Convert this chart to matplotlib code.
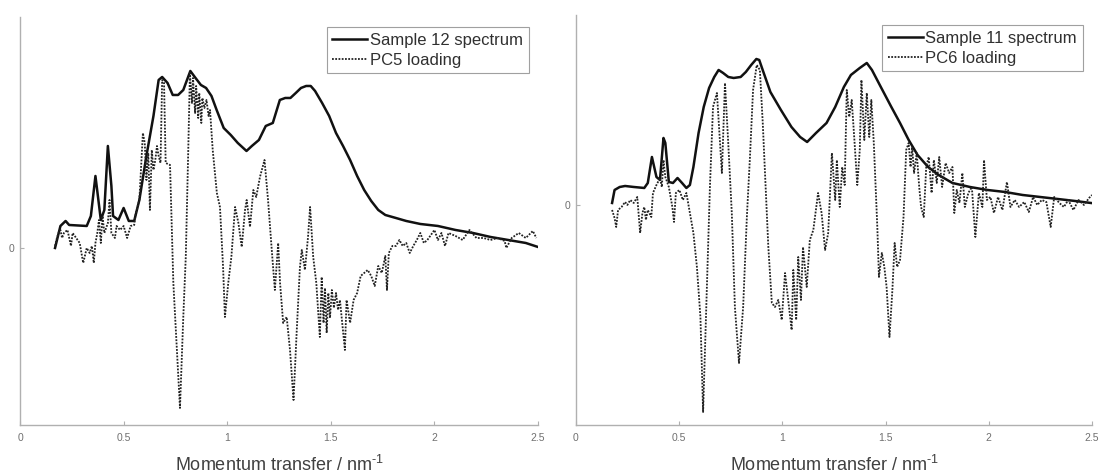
# -*- coding: utf-8 -*-
"""
Spectra with PC loadings
"""

import numpy as np
import matplotlib
matplotlib.use('Agg')
from matplotlib import pyplot as plt


plt.rcParams['font.family'] = ['Liberation Sans', 'DejaVu Sans']
plt.rcParams['mathtext.fontset'] = 'custom'
plt.rcParams['mathtext.rm'] = 'Liberation Sans'
plt.rcParams['mathtext.default'] = 'regular'
plt.rcParams['axes.unicode_minus'] = False


# Sample 12 spectrum (momentum transfer, intensity a.u.)
q12 = [0.169, 0.195, 0.220, 0.237, 0.322, 0.342, 0.364, 0.390, 0.407, 0.424,
       0.441, 0.449, 0.475, 0.500, 0.525, 0.551, 0.576, 0.610, 0.644, 0.669,
       0.686, 0.712, 0.737, 0.763, 0.788, 0.822, 0.847, 0.873, 0.898, 0.924,
       0.949, 0.983, 1.017, 1.051, 1.093, 1.119, 1.153, 1.186, 1.220, 1.254,
       1.280, 1.305, 1.331, 1.356, 1.381, 1.403, 1.424, 1.458, 1.492, 1.525,
       1.559, 1.593, 1.627, 1.661, 1.695, 1.729, 1.763, 1.814, 1.864, 1.932,
       2.017, 2.102, 2.186, 2.271, 2.356, 2.441, 2.500]
s12 = [0.00, 0.22, 0.27, 0.23, 0.22, 0.32, 0.72, 0.28, 0.38, 1.02,
       0.62, 0.32, 0.28, 0.40, 0.27, 0.27, 0.48, 0.92, 1.32, 1.68,
       1.71, 1.65, 1.53, 1.53, 1.58, 1.77, 1.70, 1.63, 1.60, 1.52,
       1.38, 1.20, 1.13, 1.05, 0.97, 1.02, 1.08, 1.22, 1.25, 1.48,
       1.50, 1.50, 1.55, 1.60, 1.62, 1.62, 1.57, 1.45, 1.32, 1.15,
       1.02, 0.88, 0.72, 0.58, 0.47, 0.38, 0.33, 0.30, 0.27, 0.24,
       0.22, 0.18, 0.15, 0.11, 0.08, 0.05, 0.01]

# PC5 loading
q_pc5 = [0.169, 0.178, 0.186, 0.195, 0.203, 0.212, 0.229, 0.246, 0.254, 0.271,
         0.288, 0.305, 0.322, 0.336, 0.347, 0.356, 0.364, 0.373, 0.381, 0.390,
         0.398, 0.407, 0.424, 0.432, 0.441, 0.458, 0.466, 0.483, 0.500, 0.517,
         0.534, 0.551, 0.559, 0.576, 0.593, 0.602, 0.610, 0.619, 0.627, 0.636,
         0.644, 0.653, 0.661, 0.669, 0.678, 0.686, 0.695, 0.703, 0.724, 0.740,
         0.757, 0.772, 0.788, 0.800, 0.812, 0.820, 0.830, 0.835, 0.845, 0.850,
         0.860, 0.865, 0.875, 0.880, 0.890, 0.900, 0.910, 0.917, 0.930, 0.950,
         0.965, 0.980, 0.989, 1.005, 1.020, 1.038, 1.054, 1.070, 1.086, 1.094,
         1.110, 1.126, 1.140, 1.158, 1.180, 1.197, 1.215, 1.230, 1.246, 1.255,
         1.270, 1.287, 1.303, 1.320, 1.335, 1.351, 1.360, 1.375, 1.390, 1.400,
         1.415, 1.430, 1.447, 1.456, 1.465, 1.472, 1.480, 1.488, 1.496, 1.505,
         1.515, 1.525, 1.535, 1.544, 1.568, 1.576, 1.593,
         1.610, 1.627, 1.644, 1.661, 1.678, 1.695, 1.712, 1.729, 1.746, 1.763,
         1.771, 1.780, 1.797, 1.814, 1.831, 1.847, 1.864, 1.881, 1.898, 1.915,
         1.932, 1.949, 1.966, 2.000, 2.017, 2.034, 2.051, 2.068, 2.102, 2.136,
         2.169, 2.203, 2.237, 2.271, 2.305, 2.339, 2.347, 2.373, 2.407, 2.441,
         2.475, 2.492]
pc5 = [0.02, 0.10, 0.15, 0.18, 0.10, 0.15, 0.18, 0.02, 0.15, 0.10,
       0.05, -0.15, 0.00, -0.05, 0.02, -0.15, 0.05, 0.15, 0.28, 0.05,
       0.32, 0.15, 0.25, 0.48, 0.15, 0.10, 0.22, 0.18, 0.22, 0.10,
       0.22, 0.23, 0.35, 0.48, 1.15, 1.05, 0.68, 0.95, 0.38, 0.98,
       0.78, 0.88, 1.02, 0.92, 0.85, 1.68, 1.65, 0.85, 0.83, -0.35,
       -1.02, -1.60, -0.69, -0.09, 0.98, 1.75, 1.45, 1.70, 1.35, 1.62,
       1.30, 1.55, 1.25, 1.50, 1.40, 1.48, 1.32, 1.38, 0.98, 0.55,
       0.41, -0.19, -0.69, -0.35, -0.09, 0.41, 0.25, 0.01, 0.38, 0.48,
       0.21, 0.58, 0.51, 0.71, 0.88, 0.48, -0.02, -0.42, 0.05, -0.35,
       -0.75, -0.69, -1.02, -1.52, -0.85, -0.19, -0.02, -0.22, 0.11, 0.41,
       -0.09, -0.35, -0.89, -0.29, -0.75, -0.40, -0.85, -0.45, -0.70, -0.42,
       -0.60, -0.45, -0.62, -0.52, -1.02, -0.52, -0.75,
       -0.52, -0.45, -0.28, -0.25, -0.22, -0.28, -0.38, -0.18, -0.25, -0.08,
       -0.42, -0.05, 0.02, 0.02, 0.08, 0.02, 0.05, -0.05, 0.02, 0.08,
       0.15, 0.05, 0.08, 0.18, 0.08, 0.15, 0.02, 0.15, 0.12, 0.08,
       0.18, 0.10, 0.10, 0.08, 0.10, 0.07, 0.00, 0.10, 0.15, 0.10,
       0.17, 0.10]

# Sample 11 spectrum
q11 = [0.175, 0.187, 0.212, 0.238, 0.280, 0.331, 0.348, 0.368, 0.390, 0.407,
       0.424, 0.433, 0.450, 0.470, 0.492, 0.514, 0.535, 0.552, 0.569, 0.594,
       0.619, 0.645, 0.670, 0.691, 0.713, 0.738, 0.764, 0.798, 0.823, 0.849,
       0.874, 0.888, 0.908, 0.942, 0.993, 1.044, 1.086, 1.120, 1.163, 1.214,
       1.256, 1.298, 1.332, 1.375, 1.409, 1.434, 1.477, 1.528, 1.570, 1.612,
       1.655, 1.706, 1.757, 1.824, 1.909, 1.994, 2.079, 2.164, 2.249, 2.334,
       2.418, 2.495]
s11 = [0.02, 0.15, 0.18, 0.19, 0.18, 0.17, 0.22, 0.48, 0.28, 0.25,
       0.67, 0.62, 0.23, 0.22, 0.27, 0.22, 0.17, 0.20, 0.38, 0.72,
       0.98, 1.17, 1.28, 1.35, 1.32, 1.28, 1.27, 1.28, 1.33, 1.40,
       1.46, 1.45, 1.33, 1.13, 0.95, 0.78, 0.68, 0.63, 0.72, 0.82,
       0.98, 1.18, 1.30, 1.37, 1.42, 1.35, 1.18, 0.98, 0.82, 0.65,
       0.50, 0.38, 0.30, 0.22, 0.18, 0.15, 0.13, 0.10, 0.08, 0.06,
       0.04, 0.02]

# PC6 loading
q_pc6 = [0.175, 0.187, 0.195, 0.204, 0.221, 0.238, 0.249, 0.263, 0.280, 0.297,
         0.311, 0.322, 0.331, 0.339, 0.348, 0.365, 0.373, 0.390, 0.407, 0.416,
         0.424, 0.433, 0.450, 0.467, 0.475, 0.484, 0.501, 0.518, 0.535, 0.552,
         0.569, 0.586, 0.603, 0.616, 0.649, 0.664, 0.683, 0.707, 0.722, 0.737,
         0.755, 0.770, 0.790, 0.810, 0.828, 0.843, 0.858, 0.876, 0.891, 0.905,
         0.916, 0.932, 0.949, 0.964, 0.980, 0.997, 1.013, 1.028, 1.045, 1.053,
         1.067, 1.077, 1.090, 1.100, 1.118, 1.133, 1.150, 1.173, 1.190, 1.207,
         1.222, 1.240, 1.247, 1.256, 1.264, 1.278, 1.290, 1.302, 1.312, 1.324,
         1.336, 1.349, 1.363, 1.375, 1.383, 1.397, 1.409, 1.421, 1.431, 1.443,
         1.460, 1.468, 1.482, 1.494, 1.505, 1.519, 1.533, 1.544, 1.556, 1.570,
         1.578, 1.587, 1.600, 1.612, 1.621, 1.629, 1.638, 1.651, 1.663, 1.672,
         1.685, 1.697, 1.709, 1.723, 1.734, 1.748, 1.760, 1.774, 1.791, 1.808,
         1.824, 1.833, 1.845, 1.858, 1.872, 1.884, 1.901, 1.918, 1.935, 1.952,
         1.969, 1.977, 1.991, 2.008, 2.025, 2.045, 2.066, 2.088, 2.105, 2.126,
         2.147, 2.172, 2.194, 2.215, 2.235, 2.257, 2.279, 2.300, 2.317, 2.342,
         2.364, 2.385, 2.410, 2.435, 2.461, 2.486, 2.500]
pc6 = [-0.05, -0.13, -0.22, -0.05, -0.02, 0.03, 0.00, 0.05, 0.02, 0.08,
       -0.28, -0.08, -0.02, -0.15, -0.05, -0.12, 0.12, 0.20, 0.27, 0.18,
       0.45, 0.28, 0.18, -0.02, -0.17, 0.12, 0.15, 0.05, 0.12, -0.08,
       -0.28, -0.62, -1.12, -2.07, 0.18, 0.98, 1.12, 0.32, 1.22, 0.65,
       -0.08, -1.02, -1.58, -1.02, -0.12, 0.48, 1.15, 1.40, 1.35, 0.82,
       0.32, -0.42, -0.98, -1.02, -0.95, -1.15, -0.68, -0.95, -1.25, -0.65,
       -1.15, -0.52, -0.95, -0.42, -0.82, -0.35, -0.25, 0.12, -0.08, -0.45,
       -0.28, 0.52, 0.32, 0.05, 0.45, -0.02, 0.38, 0.20, 1.15, 0.88,
       1.05, 0.65, 0.20, 0.55, 1.25, 0.65, 1.12, 0.68, 1.05, 0.62,
       -0.22, -0.72, -0.48, -0.62, -0.82, -1.32, -0.85, -0.38, -0.62, -0.55,
       -0.35, -0.12, 0.55, 0.62, 0.38, 0.58, 0.32, 0.52, 0.18, -0.02,
       -0.12, 0.38, 0.48, 0.12, 0.45, 0.22, 0.48, 0.18, 0.42, 0.32,
       0.38, -0.08, 0.15, 0.02, 0.32, -0.02, 0.12, 0.18, -0.32, 0.12,
       -0.02, 0.45, 0.05, 0.08, -0.08, 0.08, -0.05, 0.23, -0.02, 0.05,
       -0.02, 0.03, -0.07, 0.08, 0.00, 0.05, 0.03, -0.22, 0.08, 0.02,
       -0.02, 0.05, -0.05, 0.05, 0.00, 0.07, 0.10]

xticks = [0, 0.5, 1, 1.5, 2, 2.5]
xticklabels = ['0', '0.5', '1', '1.5', '2', '2.5']


fig = plt.figure(figsize=(11, 4.74), dpi=100)
ax1 = fig.add_axes([0.0182, 0.1034, 0.4709, 0.8608])
ax2 = fig.add_axes([0.5236, 0.1034, 0.4691, 0.8650])

panels = [(ax1, q12, s12, q_pc5, pc5, 'Sample 12 spectrum', 'PC5 loading', (-1.77, 2.31)),
          (ax2, q11, s11, q_pc6, pc6, 'Sample 11 spectrum', 'PC6 loading', (-2.20, 1.90))]

for ax, qs, s, qp, p, lab_s, lab_p, ylim in panels:
    ax.plot(qs, s, color='#111111', lw=1.8, label=lab_s)
    ax.plot(qp, p, color='#222222', lw=1.3, ls=(0, (1, 0.8)), label=lab_p)
    ax.set_xlim(0, 2.5)
    ax.set_ylim(*ylim)
    ax.set_xticks(xticks)
    ax.set_xticklabels(xticklabels)
    ax.set_yticks([0])
    ax.set_yticklabels(['0'])
    # box off, grey axes like matlab
    ax.spines['top'].set_visible(False)
    ax.spines['right'].set_visible(False)
    for sp in ['left', 'bottom']:
        ax.spines[sp].set_color('#b0b0b0')
        ax.spines[sp].set_linewidth(1.0)
    ax.tick_params(direction='in', length=3, width=0.8, colors='#b0b0b0',
                   labelcolor='#707070', labelsize=7.5)
    ax.tick_params(axis='x', pad=6)
    ax.tick_params(axis='y', pad=4)
    ax.set_xlabel(r'Momentum transfer / nm$^{\text{-}1}$', fontsize=13,
                  color='#404040', labelpad=8)
    leg = ax.legend(loc='upper right', bbox_to_anchor=(0.982, 0.976),
                    borderaxespad=0, fontsize=12, handlelength=2.1,
                    handletextpad=0.15, borderpad=0.35, labelspacing=0.3,
                    fancybox=False, framealpha=1)
    leg.get_frame().set_edgecolor('#a0a0a0')
    leg.get_frame().set_linewidth(0.8)
    for t in leg.get_texts():
        t.set_color('#303030')

plt.savefig('out.png', dpi=100)
